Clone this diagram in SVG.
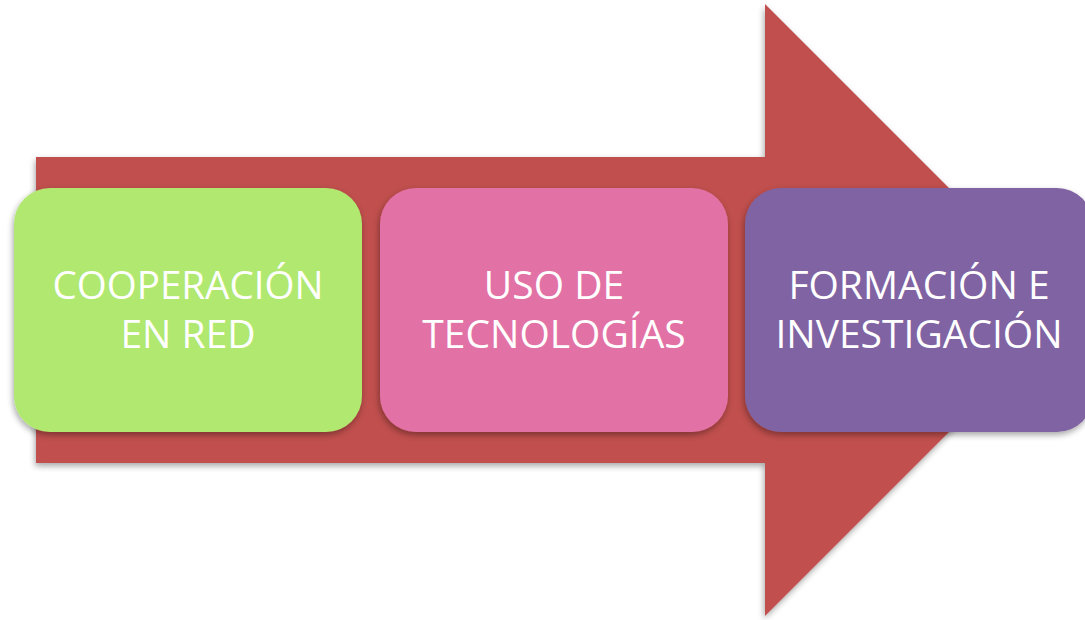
<svg xmlns="http://www.w3.org/2000/svg" width="1085" height="620" viewBox="0 0 1085 620">
<style>
.lbl{font-family:"Open Sans","Liberation Sans",sans-serif;font-size:39px;fill:#ffffff;text-anchor:middle}
.box{filter:url(#sh)}
</style>
<defs>
<filter id="sh" x="-10%" y="-10%" width="120%" height="130%">
<feGaussianBlur in="SourceAlpha" stdDeviation="3"/>
<feOffset dx="-1" dy="3" result="b"/>
<feComponentTransfer><feFuncA type="linear" slope="0.35"/></feComponentTransfer>
<feMerge><feMergeNode/><feMergeNode in="SourceGraphic"/></feMerge>
</filter>
</defs>
<rect width="1085" height="620" fill="#ffffff"/>
<g id="arrow">
<polygon class="box" points="36,157 765,157 765,4 1071,310 765,616 765,463 36,463" fill="#C0504D"/>
</g>
<g id="connectors"></g>
<g id="node1">
<rect class="box" x="14" y="188" width="348" height="244" rx="36" fill="#B0E86F"/>
<text class="lbl" x="188" y="299" textLength="271" lengthAdjust="spacingAndGlyphs">COOPERACIÓN</text>
<text class="lbl" x="188" y="348">EN RED</text>
</g>
<g id="node2">
<rect class="box" x="380" y="188" width="348" height="244" rx="36" fill="#E271A5"/>
<text class="lbl" x="554" y="299">USO DE</text>
<text class="lbl" x="554" y="348">TECNOLOGÍAS</text>
</g>
<g id="node3">
<rect class="box" x="745" y="188" width="348" height="244" rx="36" fill="#8064A2"/>
<text class="lbl" x="919" y="299">FORMACIÓN E</text>
<text class="lbl" x="919" y="348">INVESTIGACIÓN</text>
</g>
</svg>
